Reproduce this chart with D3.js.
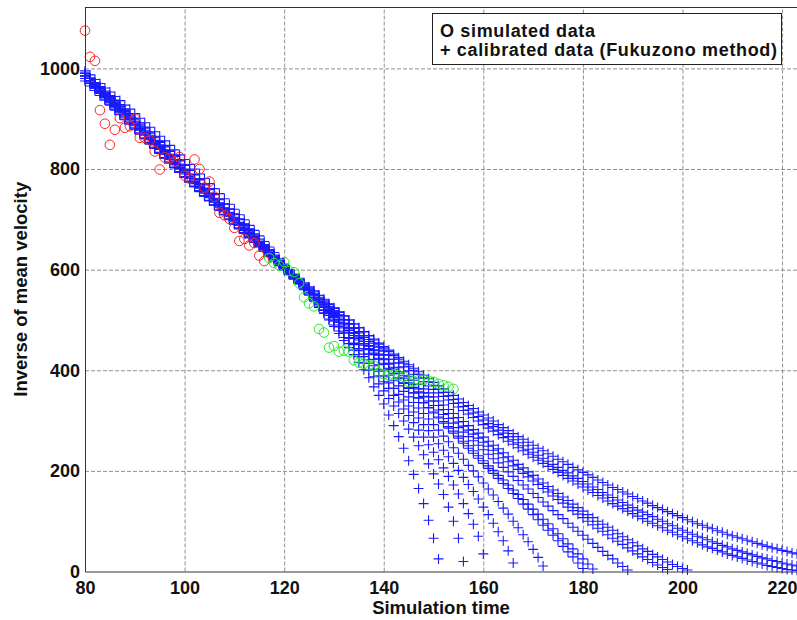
<!DOCTYPE html>
<html>
<head>
<meta charset="utf-8">
<script src="https://cdn.jsdelivr.net/npm/d3@7"></script>
<style>
    body { margin: 0; background: #fff; }
    svg { display: block; font-family: "Liberation Sans", Arial, sans-serif; }
    .grid line { stroke: #8f8f8f; stroke-width: 1; stroke-dasharray: 4,2; }
    .grid path { display: none; }
    .axis path { stroke: #333; stroke-width: 1; }
    .axis text { font-size: 18px; font-weight: bold; fill: #111; }
    .frame { stroke: #333; stroke-width: 1; }
    .sim-red { fill: none; stroke: #ff2020; stroke-width: 1; }
    .sim-green { fill: none; stroke: #22ee22; stroke-width: 1; }
    .fit { fill: none; stroke: #1a1aff; stroke-width: 1.1; }
    .legend rect { fill: #fff; stroke: #222; stroke-width: 1; }
    .legend text { font-size: 18px; font-weight: bold; fill: #111; }
    .title { font-size: 18.5px; font-weight: bold; fill: #111; text-anchor: middle; }
</style>
</head>
<body>
<svg width="797" height="620"></svg>
<script>

    // axis ticks
    let xTicks = [80, 100, 120, 140, 160, 180, 200, 220];
    let yTicks = [0, 200, 400, 600, 800, 1000];

    // simulated data, one point per time step
    let redStart = 80;
    let redValues = [1075, 1023, 1015, 917, 890, 848, 878, 901, 882, 885, 900, 862, 862, 857, 835, 799,
        823, 821, 815, 824, 787, 781, 819, 800, 763, 775, 745, 713, 708, 701, 683, 657, 661, 648, 653, 628, 617];

    let greenStart = 117;
    let greenValues = [623, 613, 608, 615, 597, 595, 573, 545, 533, 527, 482, 475, 445, 448, 437, 439, 437,
        420, 415, 413, 410, 409, 395, 392, 390, 392, 390, 387, 377, 378, 380, 381, 379, 377, 373, 370, 367, 363];

    // calibrated curves (Fukuzono), every curve starts at t = 80, one value per time step
    let fitStart = 80;
    let fit01 = [995,987,978,970,961,953,944,936,927,919,910,901,892,883,874,865,856,847,838,828,819,809,800,790,781,771,
        761,751,741,730,720,709,699,688,678,667,656,645,634,622,611,599,588,576,564,552,539,526,513,500,487,473,459,445,431,416,
        401,385,367,350,333,311,290,268,245,220,193,165,135,102,66,25];
    let fit02 = [985,976,968,959,951,942,933,924,916,907,898,889,880,871,862,853,844,835,825,816,807,797,788,778,769,759,
        749,739,730,720,710,700,690,680,669,659,648,638,627,616,605,594,583,572,560,549,537,525,514,502,490,478,465,453,440,427,
        414,400,387,373,359,344,329,314,299,283,267,250,232,214,194,174,153,128,100,66,20];
    let fit03 = [990,981,972,964,955,946,937,928,919,910,901,892,883,873,864,855,846,836,827,817,808,798,789,779,770,760,
        750,740,731,721,711,701,691,681,671,661,650,640,629,619,608,597,586,576,565,554,543,532,520,509,498,486,474,463,451,439,
        427,414,402,389,377,364,350,337,323,310,296,281,267,252,237,222,206,189,172,154,135,115,94,70,35];
    let fit04 = [980,971,962,953,944,935,926,917,908,899,890,881,872,862,853,844,835,825,816,806,797,788,778,769,759,750,
        740,730,721,711,701,691,681,672,662,652,642,632,622,612,602,592,582,572,561,551,540,530,519,509,498,487,476,465,454,443,
        432,421,409,398,387,375,364,352,341,329,317,305,292,280,267,254,241,228,215,201,187,173,159,144,128,113,96,79,61,41,17];
    let fit05 = [985,976,967,957,948,939,930,921,911,902,893,884,874,865,855,846,837,827,818,808,799,789,780,770,761,751,
        741,732,722,713,703,693,683,674,664,654,644,634,625,615,605,595,585,575,565,555,545,535,525,515,505,495,484,474,463,453,
        443,432,422,411,401,390,379,369,358,347,336,325,314,303,292,281,269,258,246,235,223,211,200,188,176,
        164,152,139,126,114,100,87,73,59,44,28,11];
    let fit06 = [990,981,971,962,952,943,933,924,914,905,895,886,876,867,857,848,838,829,819,810,800,790,781,771,762,752,
        742,733,723,714,704,694,685,675,666,656,646,637,627,618,608,598,589,579,570,560,550,540,531,521,511,501,492,482,473,463,
        453,443,434,424,414,404,394,385,375,365,355,345,335,325,315,305,295,285,275,265,255,245,235,225,215,
        205,195,185,175,165,155,145,134,124,113,103,92,82,72,61,50,39,29,17,6];
    let fit07 = [980,971,961,952,942,933,924,914,905,895,886,877,867,858,848,839,830,820,811,801,792,782,773,763,754,744,
        735,725,716,706,697,688,678,669,659,650,640,631,621,612,602,593,583,574,564,555,545,536,526,517,507,498,488,479,469,460,
        450,441,431,422,412,402,393,383,374,364,355,345,336,326,317,307,298,288,279,269,259,250,240,230,220,
        210,201,191,182,172,162,153,143,134,124,114,104,95,85,75,65,55,45,35,25,15,5];
    let fit08 = [985,975,966,956,947,937,927,918,908,899,889,879,870,860,851,841,832,822,813,803,794,784,775,765,756,746,
        736,727,718,708,699,690,680,671,661,652,643,633,624,614,605,596,587,577,568,559,550,541,531,522,513,504,494,485,475,466,
        457,448,439,430,421,412,402,393,384,375,366,357,348,339,330,321,312,304,295,286,277,268,260,251,242,
        233,224,216,207,198,189,181,172,164,155,147,138,130,121,113,105,96,88,80,72,64,56,48,40,32,25,17,10,3];
    let fit09 = [975,965,956,946,937,927,917,908,898,889,879,869,860,850,841,831,822,812,803,793,784,775,765,756,746,737,
        728,718,709,699,690,681,672,663,654,645,636,626,617,608,599,590,581,572,563,554,545,536,528,519,510,501,492,484,475,466,
        457,449,440,432,423,414,406,397,389,380,372,363,355,347,339,330,322,314,305,297,289,281,273,265,257,
        249,241,234,226,218,210,203,195,188,180,173,165,158,150,143,136,128,121,114,107,100,93,86,80,73,
        66,60,54,47,41,35,29,24,18,13,8,4];
    let fit10 = [990,980,970,960,950,940,930,920,911,901,891,881,872,862,853,843,833,823,814,804,794,785,775,766,756,747,
        738,728,719,709,700,691,681,672,662,653,644,635,625,616,607,598,589,580,571,562,553,544,536,527,518,509,500,492,483,474,
        465,457,448,440,431,422,414,405,397,388,380,372,363,355,347,339,331,322,314,306,298,290,282,275,267,
        259,251,244,236,228,221,213,206,198,191,184,176,169,162,155,148,141,134,127,120,113,107,100,94,88,
        82,75,69,63,57,51,45,40,34,29,24,19,14,10,6,3];
    let fit11 = [980,970,960,950,939,929,919,909,899,890,880,870,860,850,841,831,821,812,802,793,783,774,765,755,746,737,
        728,718,709,700,691,682,673,664,655,646,637,628,620,611,602,593,585,576,568,559,551,543,534,526,518,510,501,493,485,477,
        469,461,454,446,438,430,422,415,407,399,392,384,377,369,362,355,348,341,334,327,320,313,306,299,292,
        285,279,272,266,259,253,246,240,233,227,221,215,209,203,197,191,185,180,174,168,162,157,151,146,140,
        135,130,125,120,115,110,105,100,96,91,87,82,78,73,69,65,61,57,53,49,46,42,39,35,32,29,26,23,20,17,
        15,12,10,8,6,4,3,2];
    let fit12 = [990,980,970,959,949,939,929,919,908,898,888,878,868,859,849,839,829,819,809,800,790,781,771,762,752,743,
        734,724,715,706,697,688,679,670,661,652,643,634,626,617,608,600,591,583,574,566,558,549,541,532,524,516,508,500,492,484,
        476,468,460,452,444,437,429,422,414,407,400,392,385,377,370,363,356,349,342,335,328,321,315,308,301,
        294,288,281,275,268,262,256,250,243,237,231,225,219,213,207,201,196,190,185,179,174,168,163,157,152,
        147,142,137,132,127,122,118,113,109,104,100,95,91,86,82,78,74,70,67,63,59,56,52,49,45,42,39,36,33,30,
        27,25,22,20,17,15,13,11];
    let fit13 = [985,975,964,954,943,933,923,913,902,892,882,872,862,853,843,833,823,814,804,795,785,776,766,757,747,738,
        729,720,710,701,692,683,674,666,657,648,639,631,622,614,605,597,588,580,572,564,556,548,539,531,523,515,508,500,492,485,
        477,469,462,454,447,440,432,425,418,411,404,397,390,383,376,369,363,356,350,343,336,330,324,317,311,
        305,299,292,286,280,274,268,263,257,251,245,240,234,229,223,218,213,207,202,197,192,187,182,177,172,
        167,163,158,154,149,145,140,136,131,127,123,119,115,111,107,103,99,95,92,88,85,81,78,74,71,68,65,62,59,56,
        53,50,47,45,42,40,37,35];

    let fits = [fit01, fit02, fit03, fit04, fit05, fit06, fit07, fit08, fit09, fit10, fit11, fit12, fit13];

    let svg = d3.select('svg'),
        margin = { top: 7, right: 0, bottom: 48.5, left: 85 },
        width = +svg.attr('width') - margin.left - margin.right,
        height = +svg.attr('height') - margin.top - margin.bottom;

    let x = d3.scaleLinear().domain([80, 223]).range([margin.left, margin.left + width]);
    let y = d3.scaleLinear().domain([0, 1122]).range([margin.top + height, margin.top]);

    // dashed grid
    svg.append('g')
        .attr('class', 'grid')
        .attr('transform', 'translate(0,' + (margin.top + height) + ')')
        .call(d3.axisBottom(x).tickValues(xTicks.slice(1)).tickSize(-height).tickFormat(''));

    svg.append('g')
        .attr('class', 'grid')
        .attr('transform', 'translate(' + margin.left + ',0)')
        .call(d3.axisLeft(y).tickValues(yTicks.slice(1)).tickSize(-width).tickFormat(''));

    // top frame line
    svg.append('line')
        .attr('class', 'frame')
        .attr('x1', margin.left).attr('x2', margin.left + width)
        .attr('y1', margin.top + 0.5).attr('y2', margin.top + 0.5);

    // calibrated curves: '+' markers
    let plus = 'M-5,0H5M0,-5V5';
    let fitG = svg.append('g');
    fits.forEach(function(vals) {
        fitG.selectAll(null)
            .data(vals)
            .enter()
            .append('path')
            .attr('class', 'fit')
            .attr('d', plus)
            .attr('transform', (d, i) => 'translate(' + x(fitStart + i) + ',' + y(d) + ')');
    });

    // simulated data: 'o' markers
    svg.append('g').selectAll('circle')
        .data(redValues)
        .enter()
        .append('circle')
        .attr('class', 'sim-red')
        .attr('cx', (d, i) => x(redStart + i))
        .attr('cy', d => y(d))
        .attr('r', 4.8);

    svg.append('g').selectAll('circle')
        .data(greenValues)
        .enter()
        .append('circle')
        .attr('class', 'sim-green')
        .attr('cx', (d, i) => x(greenStart + i))
        .attr('cy', d => y(d))
        .attr('r', 4.8);

    // axes
    svg.append('g')
        .attr('class', 'axis')
        .attr('transform', 'translate(0,' + (margin.top + height) + ')')
        .call(d3.axisBottom(x).tickValues(xTicks).tickFormat(d3.format('d'))
            .tickSize(0).tickSizeOuter(0).tickPadding(9.5));

    svg.append('g')
        .attr('class', 'axis')
        .attr('transform', 'translate(' + margin.left + ',0)')
        .call(d3.axisLeft(y).tickValues(yTicks).tickFormat(d3.format('d'))
            .tickSize(0).tickSizeOuter(0).tickPadding(5));

    svg.selectAll('.axis .domain').attr('fill', 'none');

    // axis titles
    svg.append('text')
        .attr('class', 'title')
        .attr('x', margin.left + width / 2)
        .attr('y', 614)
        .text('Simulation time');

    svg.append('text')
        .attr('class', 'title')
        .attr('transform', 'translate(27,' + (margin.top + height / 2) + ') rotate(-90)')
        .text('Inverse of mean velocity');

    // legend
    let legend = svg.append('g').attr('class', 'legend');
    legend.append('rect')
        .attr('x', 432.5).attr('y', 13.5)
        .attr('width', 349).attr('height', 51);
    legend.append('text').attr('x', 440).attr('y', 37)
        .attr('textLength', 155).attr('lengthAdjust', 'spacing')
        .text('O simulated data');
    legend.append('text').attr('x', 440).attr('y', 56)
        .attr('textLength', 337).attr('lengthAdjust', 'spacing')
        .text('+ calibrated data (Fukuzono method)');

</script>
</body>
</html>
